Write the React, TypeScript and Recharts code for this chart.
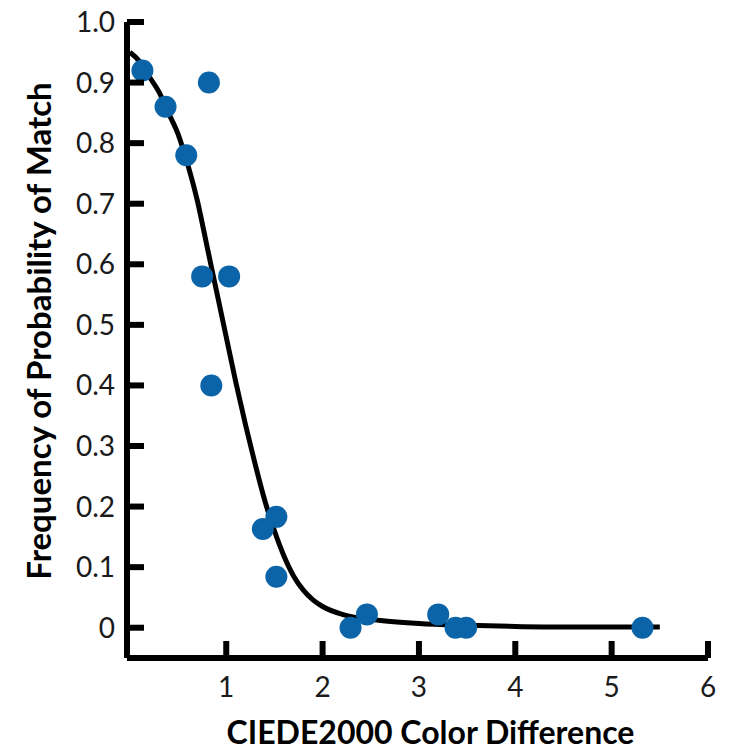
import { ComposedChart, Line, Scatter, XAxis, YAxis, Label } from 'recharts';

const matchDiff = [0.13, 0.37, 0.585, 0.82, 0.75, 1.03, 0.845, 1.38, 1.52, 1.52, 2.29, 2.46, 3.2, 3.38, 3.49, 5.32];
const matchFreq = [0.92, 0.86, 0.78, 0.9, 0.58, 0.58, 0.4, 0.163, 0.183, 0.084, 0, 0.022, 0.022, 0, 0, 0];

// fitted curve
const fitDiff = [0, 0.1, 0.2, 0.3, 0.4, 0.5, 0.6, 0.7, 0.8, 0.9, 1.0, 1.1, 1.2, 1.3, 1.4, 1.5, 1.6, 1.7, 1.8, 1.9, 2.0, 2.25, 2.6, 3.0, 3.5, 4.0, 4.5, 5.0, 5.5];
const fitFreq = [0.95, 0.935, 0.91, 0.885, 0.85, 0.815, 0.765, 0.705, 0.63, 0.555, 0.48, 0.405, 0.335, 0.27, 0.21, 0.16, 0.118, 0.085, 0.062, 0.046, 0.035, 0.02, 0.012, 0.007, 0.004, 0.002, 0.001, 0.001, 0.001];

const xTicks = [1, 2, 3, 4, 5, 6];
const yTicks = [0, 0.1, 0.2, 0.3, 0.4, 0.5, 0.6, 0.7, 0.8, 0.9, 1.0];

const points = matchDiff.map((x, i) => ({ x, y: matchFreq[i] }));
const fit = fitDiff.map((x, i) => ({ x, y: fitFreq[i] }));

const FONT = "Lato, 'Open Sans', sans-serif";
const BLUE = '#0b64a8';
const TICK_LEN = 17;
const MARGIN = 12;

const fmtY = (v: number) => (v === 0 ? '0' : v.toFixed(1));

const YTick = (props: any) => {
  const { x, y, payload } = props;
  const ax = x + MARGIN;
  return (
    <g>
      <line x1={ax} y1={y} x2={ax + TICK_LEN} y2={y} stroke="#000" strokeWidth={6} />
      <text x={x} y={y} dy={10} textAnchor="end" fontSize={28} fontFamily={FONT} fill="#1a1a1a">
        {fmtY(payload.value)}
      </text>
    </g>
  );
};

const XTick = (props: any) => {
  const { x, y, payload } = props;
  const ay = y - MARGIN;
  return (
    <g>
      <line x1={x} y1={ay} x2={x} y2={ay - TICK_LEN} stroke="#000" strokeWidth={6} />
      <text x={x} y={y} dy={27} textAnchor="middle" fontSize={28} fontFamily={FONT} fill="#1a1a1a">
        {payload.value}
      </text>
    </g>
  );
};

const Dot = (props: any) => <circle cx={props.cx} cy={props.cy} r={11} fill={BLUE} />;

const YTitle = (props: any) => {
  const vb = props.viewBox;
  const cx = 38;
  const cy = vb.y + vb.height / 2 - 9;
  return (
    <text
      x={cx}
      y={cy}
      transform={`rotate(-90, ${cx}, ${cy})`}
      textAnchor="middle"
      dominantBaseline="central"
      fontSize={33}
      fontWeight="bold"
      fontFamily={FONT}
      fill="#000"
    >
      Frequency of Probability of Match
    </text>
  );
};

export default function App() {
  return (
    <div style={{ position: 'absolute', left: 0, top: 0, background: '#fff' }}>
      <ComposedChart width={750} height={750} margin={{ top: 22, right: 42, left: 0, bottom: 0 }}>
        <XAxis
          type="number"
          dataKey="x"
          domain={[-0.03, 6]}
          ticks={xTicks}
          height={92}
          axisLine={{ stroke: '#000', strokeWidth: 6 }}
          tickLine={false}
          tickSize={0}
          tickMargin={MARGIN}
          tick={<XTick />}
          interval={0}
        >
          <Label
            value="CIEDE2000 Color Difference"
            position="insideBottom"
            offset={6}
            dx={13}
            fontSize={32}
            fontWeight="bold"
            fontFamily={FONT}
            fill="#000"
          />
        </XAxis>
        <YAxis
          type="number"
          dataKey="y"
          domain={[-0.05, 1.0]}
          ticks={yTicks}
          width={127}
          axisLine={{ stroke: '#000', strokeWidth: 6 }}
          tickLine={false}
          tickSize={0}
          tickMargin={MARGIN}
          tick={<YTick />}
          interval={0}
        >
          <Label content={<YTitle />} />
        </YAxis>
        <Line
          data={fit}
          dataKey="y"
          type="monotone"
          stroke="#000"
          strokeWidth={5}
          dot={false}
          activeDot={false}
          isAnimationActive={false}
        />
        <Scatter data={points} dataKey="y" shape={<Dot />} isAnimationActive={false} />
      </ComposedChart>
    </div>
  );
}
